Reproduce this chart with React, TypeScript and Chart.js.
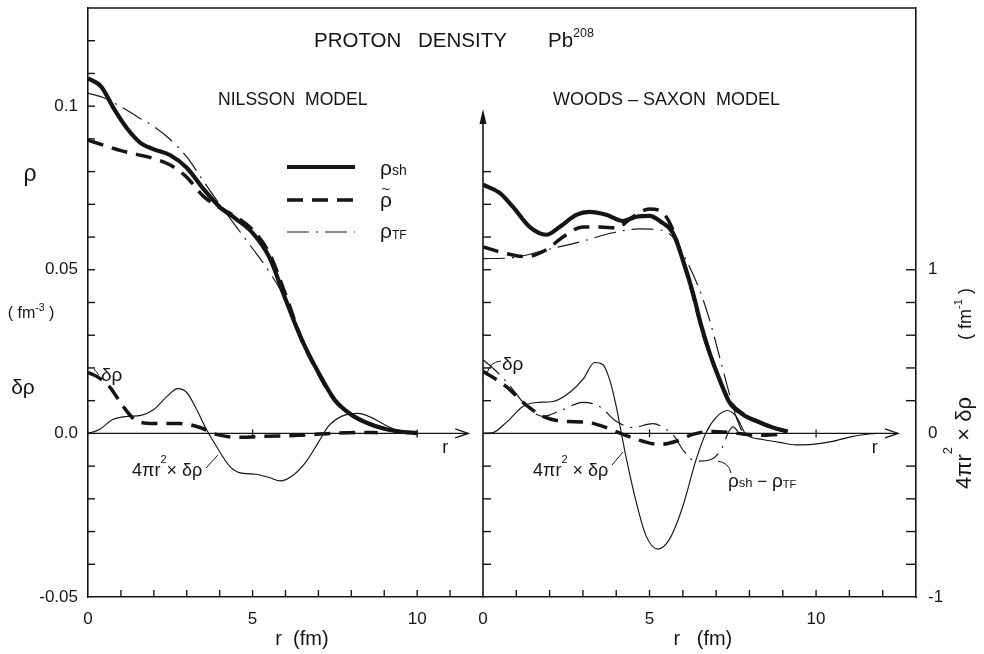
import React, { useEffect, useRef } from "react";
import { Chart, registerables } from "chart.js";

Chart.register(...registerables);

const W = 984;
const H = 654;
const INK = "#151515";
const FONT = "'Liberation Sans', Arial, Helvetica, sans-serif";

// ---------- axes ----------
const RHO_MIN = -0.05;
const RHO_MAX = 0.13;
const RAD_MIN = -1;
const RAD_MAX = 2.6;
const NIL_R_MAX = 12;
const WS_R_MAX = 13;
const X_LABEL_VALUES = [0, 5, 10];
const RHO_LABELS: Record<number, string> = { 100: "0.1", 50: "0.05", 0: "0.0", [-50]: "-0.05" };
const RAD_LABELS: Record<number, string> = { 10: "1", 0: "0", [-10]: "-1" };

// ---------- Nilsson model (left panel) ----------
const nilShR = [0, 0.4, 0.8, 1.2, 1.6, 2.0, 2.5, 3.0, 3.5, 4.0, 4.5, 5.0, 5.5, 6.0, 6.5, 7.0, 7.5, 8.0, 8.5, 9.0, 9.5, 10];
const nilSh = [0.1085, 0.106, 0.099, 0.093, 0.0887, 0.0868, 0.085, 0.0812, 0.0748, 0.0692, 0.0655, 0.0613, 0.054, 0.041, 0.0285, 0.0186, 0.0102, 0.0057, 0.0031, 0.0014, 0.0005, 0.0001];

const nilTildeR = [0, 0.5, 1.0, 1.5, 2.0, 2.5, 3.0, 3.5, 4.0, 4.5, 5.0, 5.5, 6.0, 6.5, 7.0, 7.5, 8.0, 8.5, 9.0, 9.5, 10];
const nilTilde = [0.0896, 0.088, 0.0864, 0.0852, 0.084, 0.082, 0.0783, 0.0725, 0.069, 0.0662, 0.0622, 0.0552, 0.0425, 0.0285, 0.0183, 0.01, 0.0057, 0.0031, 0.0015, 0.0005, 0.0001];

const nilTfR = [0, 0.5, 1.0, 1.5, 2.0, 2.5, 3.0, 3.5, 4.0, 4.5, 5.0, 5.5, 6.0, 6.5, 7.0, 7.5, 8.0, 8.5, 9.0, 9.5, 10];
const nilTf = [0.104, 0.1025, 0.0998, 0.0968, 0.0938, 0.0898, 0.0845, 0.0772, 0.07, 0.0632, 0.0565, 0.0495, 0.041, 0.029, 0.0185, 0.01, 0.0053, 0.0028, 0.0012, 0.0004, 0.0001];

const nilDeltaR = [0, 0.3, 0.65, 1.05, 1.45, 2.0, 2.8, 3.4, 3.9, 4.6, 5.4, 6.4, 7.4, 8.4, 8.8];
const nilDelta = [0.0186, 0.0172, 0.0143, 0.0085, 0.004, 0.003, 0.003, 0.0018, -0.0003, -0.0012, -0.0009, -0.0006, 0.0, 0.0003, 0.0002];

const nilRadR = [0, 0.35, 0.75, 1.2, 1.6, 2.0, 2.4, 2.73, 3.0, 3.3, 3.6, 3.9, 4.3, 4.6, 5.1, 5.5, 5.85, 6.2, 6.6, 7.0, 7.3, 7.7, 8.2, 8.6, 9.1, 9.5, 9.95];
const nilRad = [0, 0.024, 0.085, 0.104, 0.11, 0.146, 0.226, 0.274, 0.25, 0.146, 0.024, -0.079, -0.2, -0.24, -0.25, -0.27, -0.29, -0.26, -0.18, -0.055, 0.043, 0.104, 0.122, 0.098, 0.043, 0.012, 0];

// ---------- Woods-Saxon model (right panel) ----------
const wsShR = [0, 0.5, 0.9, 1.4, 1.9, 2.3, 2.8, 3.2, 3.7, 4.2, 4.6, 5.0, 5.35, 5.7, 6.0, 6.3, 6.55, 6.8, 7.1, 7.4, 7.8, 8.3, 8.7, 9.15];
const wsSh = [0.076, 0.0735, 0.0692, 0.0631, 0.0607, 0.0631, 0.0668, 0.0677, 0.0668, 0.0649, 0.0662, 0.0665, 0.0646, 0.0613, 0.053, 0.043, 0.033, 0.0247, 0.0165, 0.0095, 0.0058, 0.0034, 0.0018, 0.0006];

const wsTildeR = [0, 0.6, 1.3, 1.9, 2.4, 3.0, 3.5, 4.0, 4.5, 5.0, 5.4, 5.7, 6.0, 6.3, 6.6, 7.0, 7.4, 7.8, 8.3, 8.7, 9.1];
const wsTilde = [0.057, 0.0552, 0.054, 0.0561, 0.06, 0.0631, 0.0631, 0.0628, 0.0662, 0.0686, 0.0674, 0.0622, 0.053, 0.0425, 0.031, 0.019, 0.01, 0.006, 0.0034, 0.0018, 0.0006];

const wsTfR = [0, 0.9, 1.9, 2.9, 3.9, 4.7, 5.3, 5.7, 6.1, 6.5, 6.8, 7.1, 7.4, 7.6, 7.8];
const wsTf = [0.0534, 0.0537, 0.0561, 0.0585, 0.0613, 0.0625, 0.0622, 0.06, 0.053, 0.0439, 0.0348, 0.0235, 0.012, 0.005, 0.0];

const wsDeltaR = [0, 0.7, 1.2, 1.8, 2.4, 3.1, 3.7, 4.2, 4.8, 5.3, 5.8, 6.3, 6.9, 7.4, 8.3, 8.9];
const wsDelta = [0.019, 0.0143, 0.0095, 0.0052, 0.0037, 0.0034, 0.0018, -0.0003, -0.0024, -0.0034, -0.0024, -0.0003, 0.0006, 0.0003, -0.0006, -0.0003];

const wsDiffR = [0, 0.4, 0.9, 1.2, 1.8, 2.4, 3.0, 3.5, 4.0, 4.5, 5.1, 5.5, 5.75, 6.0, 6.4, 6.85, 7.2, 7.35, 7.5, 7.7];
const wsDiff = [0.0225, 0.019, 0.0134, 0.0095, 0.0052, 0.0073, 0.0095, 0.0082, 0.0037, 0.0018, 0.003, 0.0012, -0.001, -0.005, -0.0085, -0.008, -0.004, 0.0, 0.002, 0.0];

const wsRadR = [0, 0.3, 0.7, 1.2, 1.6, 2.1, 2.6, 3.0, 3.35, 3.6, 3.8, 4.0, 4.15, 4.3, 4.6, 4.9, 5.25, 5.6, 6.0, 6.4, 6.7, 7.0, 7.34, 7.6, 7.9, 8.4, 8.9, 9.4, 9.9, 10.5, 11.1, 11.5, 11.8];
const wsRad = [0, 0.005, 0.067, 0.165, 0.189, 0.195, 0.25, 0.33, 0.433, 0.42, 0.33, 0.165, 0.006, -0.15, -0.42, -0.628, -0.707, -0.646, -0.445, -0.159, 0.006, 0.098, 0.14, 0.104, -0.006, -0.037, -0.055, -0.07, -0.067, -0.049, -0.018, -0.006, 0];

// ---------- styles ----------
type Sty = { w: number; dash: number[] };
const THICK: Sty = { w: 4.2, dash: [] };
const DASHED: Sty = { w: 3.5, dash: [16, 9] };
const DASHDOT: Sty = { w: 1.15, dash: [22, 7, 2, 7] };
const THIN: Sty = { w: 1.15, dash: [] };

function series(label: string, rs: number[], vs: number[], s: Sty, axis = "y") {
  return {
    type: "line" as const,
    label,
    data: rs.map((r, i) => ({ x: r, y: vs[i] })),
    xAxisID: "x",
    yAxisID: axis,
    borderColor: INK,
    backgroundColor: INK,
    borderWidth: s.w,
    borderDash: s.dash,
    borderCapStyle: "butt" as const,
    borderJoinStyle: "round" as const,
    pointRadius: 0,
    pointHoverRadius: 0,
    fill: false,
    cubicInterpolationMode: "monotone" as const,
  };
}

// ---------- drawing helpers ----------
function seg(ctx: CanvasRenderingContext2D, x1: number, y1: number, x2: number, y2: number, w = 1.4) {
  ctx.beginPath();
  ctx.lineWidth = w;
  ctx.setLineDash([]);
  ctx.moveTo(x1, y1);
  ctx.lineTo(x2, y2);
  ctx.stroke();
}

type Part = [string, number, number];
function rich(ctx: CanvasRenderingContext2D, parts: Part[], x: number, y: number, align: "left" | "center" | "right" = "left") {
  let w = 0;
  for (const [s, size] of parts) {
    ctx.font = `${size}px ${FONT}`;
    w += ctx.measureText(s).width;
  }
  let cx = align === "center" ? x - w / 2 : align === "right" ? x - w : x;
  ctx.textAlign = "left";
  ctx.textBaseline = "alphabetic";
  for (const [s, size, dy] of parts) {
    ctx.font = `${size}px ${FONT}`;
    ctx.fillText(s, cx, y + dy);
    cx += ctx.measureText(s).width;
  }
}

function zeroArrow(ctx: CanvasRenderingContext2D, xs: any, ys: any, rEnd: number) {
  const y0 = ys.getPixelForValue(0);
  const x0 = xs.getPixelForValue(0);
  const xe = xs.getPixelForValue(rEnd);
  seg(ctx, x0, y0, xe, y0, 1.2);
  ctx.beginPath();
  ctx.lineWidth = 1.4;
  ctx.moveTo(xe - 13, y0 - 4.5);
  ctx.lineTo(xe, y0);
  ctx.lineTo(xe - 13, y0 + 4.5);
  ctx.stroke();
  for (const r of [5, 10]) {
    const px = xs.getPixelForValue(r);
    seg(ctx, px, y0 - 4, px, y0 + 4, 1.3);
  }
  rich(ctx, [["r", 18, 0]], xs.getPixelForValue(rEnd - 0.7), y0 + 20, "center");
}

function rhoTickValues(from: number, to: number) {
  const out: number[] = [];
  for (let k = Math.round(from * 100); k <= Math.round(to * 100); k++) out.push(k / 100);
  return out;
}

function noPad(s: any) {
  s.paddingTop = 0;
  s.paddingBottom = 0;
  s.paddingLeft = 0;
  s.paddingRight = 0;
}

// ---------- scales ----------
function xScale(max: number) {
  return {
    type: "linear" as const,
    min: 0,
    max,
    position: "bottom" as const,
    grid: { display: false, drawTicks: false },
    border: { display: true, color: INK, width: 1.6 },
    ticks: {
      stepSize: 1,
      autoSkip: false,
      maxRotation: 0,
      minRotation: 0,
      padding: 12,
      color: INK,
      font: { family: FONT, size: 17 },
      callback: (v: any) => (X_LABEL_VALUES.includes(Number(v)) ? String(v) : ""),
    },
    afterFit: (s: any) => {
      s.height = H - 597;
      noPad(s);
    },
  };
}

// ---------- plugins ----------
const leftDecor = {
  id: "leftDecor",
  afterDraw(chart: any) {
    const { ctx, chartArea: a } = chart;
    const xs = chart.scales.x;
    const ys = chart.scales.y;
    ctx.save();
    ctx.strokeStyle = INK;
    ctx.fillStyle = INK;
    // frame top
    seg(ctx, a.left, a.top, a.right, a.top, 1.6);
    // inward ticks
    for (const v of rhoTickValues(-0.04, 0.12)) {
      const py = ys.getPixelForValue(v);
      seg(ctx, a.left, py, a.left + 7, py, 1.4);
    }
    for (let r = 1; r < NIL_R_MAX; r++) {
      const px = xs.getPixelForValue(r);
      seg(ctx, px, a.bottom, px, a.bottom - 7, 1.4);
    }
    zeroArrow(ctx, xs, ys, 11.55);

    // title
    rich(ctx, [["PROTON", 20.5, 0]], 314, 47);
    rich(ctx, [["DENSITY", 20.5, 0]], 418, 47);
    rich(ctx, [["Pb", 20.5, 0], ["208", 12.5, -10]], 548, 47);
    rich(ctx, [["NILSSON  MODEL", 17.6, 0]], 218, 105);

    // left axis labels
    rich(ctx, [["ρ", 23, 0]], 30, 181, "center");
    rich(ctx, [["( fm", 16, 0], ["-3", 10.5, -7], [" )", 16, 0]], 31, 318, "center");
    rich(ctx, [["δρ", 21, 0]], 23, 394, "center");
    rich(ctx, [["r  (fm)", 20, 0]], xs.getPixelForValue(6.5), 645, "center");

    // legend
    ctx.strokeStyle = INK;
    seg(ctx, 287, 167, 355, 167, 4.2);
    ctx.beginPath();
    ctx.lineWidth = 3.5;
    ctx.setLineDash(DASHED.dash);
    ctx.moveTo(287, 200);
    ctx.lineTo(355, 200);
    ctx.stroke();
    ctx.beginPath();
    ctx.lineWidth = 1.15;
    ctx.setLineDash(DASHDOT.dash);
    ctx.moveTo(287, 232);
    ctx.lineTo(355, 232);
    ctx.stroke();
    ctx.setLineDash([]);
    rich(ctx, [["ρ", 21, 0], ["sh", 14, 0]], 380, 175);
    rich(ctx, [["ρ", 21, 0]], 380, 207);
    rich(ctx, [["~", 15, 0]], 386, 194, "center");
    rich(ctx, [["ρ", 21, 0], ["TF", 12, 1]], 380, 238);

    // annotations
    rich(ctx, [["δρ", 19, 0]], 101, 381);
    seg(ctx, 94, 369, 99, 375, 1);
    rich(ctx, [["4πr", 18, 0], ["2", 11, -13], ["× δρ", 18, 0]], 132, 476);
    seg(ctx, 206, 468, 218, 455, 1);
    ctx.restore();
  },
};

const rightDecor = {
  id: "rightDecor",
  afterDraw(chart: any) {
    const { ctx, chartArea: a } = chart;
    const xs = chart.scales.x;
    const ys = chart.scales.y;
    const y2 = chart.scales.y2;
    ctx.save();
    ctx.strokeStyle = INK;
    ctx.fillStyle = INK;
    seg(ctx, a.left, a.top, a.right, a.top, 1.6);
    // middle vertical axis with arrow
    seg(ctx, a.left, a.bottom, a.left, 122, 1.6);
    ctx.beginPath();
    ctx.moveTo(a.left, 109);
    ctx.lineTo(a.left - 3.5, 124);
    ctx.lineTo(a.left + 3.5, 124);
    ctx.closePath();
    ctx.fill();
    for (const v of rhoTickValues(-0.04, 0.08)) {
      const py = ys.getPixelForValue(v);
      seg(ctx, a.left, py, a.left + 8, py, 1.4);
    }
    // right axis ticks
    for (let k = -4; k <= 5; k++) {
      if (k === 0) continue;
      const py = y2.getPixelForValue(k * 0.2);
      seg(ctx, a.right, py, a.right - 10, py, 1.4);
    }
    for (let r = 1; r < WS_R_MAX; r++) {
      const px = xs.getPixelForValue(r);
      seg(ctx, px, a.bottom, px, a.bottom - 7, 1.4);
    }
    zeroArrow(ctx, xs, ys, 12.46);

    rich(ctx, [["WOODS – SAXON  MODEL", 18, 0]], 553, 105);
    rich(ctx, [["r   (fm)", 20, 0]], xs.getPixelForValue(6.6), 645, "center");

    // rotated right-hand labels
    ctx.save();
    ctx.translate(971, 314);
    ctx.rotate(-Math.PI / 2);
    rich(ctx, [["( fm", 18, 0], ["-1", 11, -9], [" )", 18, 0]], 0, 0, "center");
    ctx.restore();
    ctx.save();
    ctx.translate(971, 443);
    ctx.rotate(-Math.PI / 2);
    rich(ctx, [["4πr", 22, 0], ["2", 13, -19], [" × δρ", 22, 0]], 0, 0, "center");
    ctx.restore();

    // annotations
    rich(ctx, [["δρ", 19, 0]], 502, 370);
    ctx.beginPath();
    ctx.lineWidth = 1;
    ctx.moveTo(487, 374);
    ctx.quadraticCurveTo(489, 362, 501, 361);
    ctx.stroke();
    rich(ctx, [["4πr", 18, 0], ["2", 11, -13], [" × δρ", 18, 0]], 533, 476);
    seg(ctx, 612, 465, 623, 452, 1);
    rich(ctx, [["ρ", 19, 0], ["sh", 13, 0], [" − ", 17, 0], ["ρ", 19, 0], ["TF", 11, 1]], 728, 487);
    ctx.beginPath();
    ctx.lineWidth = 1;
    ctx.moveTo(731, 473);
    ctx.quadraticCurveTo(729, 463, 718, 461);
    ctx.stroke();
    ctx.restore();
  },
};

// ---------- configs ----------
function leftConfig(): any {
  return {
    type: "line",
    data: {
      datasets: [
        series("4πr²×δρ", nilRadR, nilRad, THIN, "y2"),
        series("ρTF", nilTfR, nilTf, DASHDOT),
        series("ρ̃", nilTildeR, nilTilde, DASHED),
        series("δρ", nilDeltaR, nilDelta, DASHED),
        series("ρsh", nilShR, nilSh, THICK),
      ],
    },
    options: {
      animation: false,
      responsive: false,
      devicePixelRatio: 1,
      events: [],
      layout: { padding: { left: 0, top: 8, right: W - 483, bottom: 0 } },
      plugins: { legend: { display: false }, tooltip: { enabled: false }, title: { display: false } },
      scales: {
        x: xScale(NIL_R_MAX),
        y: {
          type: "linear",
          min: RHO_MIN,
          max: RHO_MAX,
          position: "left",
          grid: { display: false, drawTicks: false },
          border: { display: true, color: INK, width: 1.6 },
          ticks: {
            stepSize: 0.01,
            autoSkip: false,
            padding: 10,
            color: INK,
            font: { family: FONT, size: 17 },
            callback: (v: any) => RHO_LABELS[Math.round(Number(v) * 1000)] ?? "",
          },
          afterFit: (s: any) => {
            s.width = 88;
            noPad(s);
          },
        },
        y2: { type: "linear", min: RAD_MIN, max: RAD_MAX, display: false, position: "right" },
      },
    },
    plugins: [leftDecor],
  };
}

function rightConfig(): any {
  return {
    type: "line",
    data: {
      datasets: [
        series("4πr²×δρ", wsRadR, wsRad, THIN, "y2"),
        series("ρsh−ρTF", wsDiffR, wsDiff, DASHDOT),
        series("ρTF", wsTfR, wsTf, DASHDOT),
        series("ρ̃", wsTildeR, wsTilde, DASHED),
        series("δρ", wsDeltaR, wsDelta, DASHED),
        series("ρsh", wsShR, wsSh, THICK),
      ],
    },
    options: {
      animation: false,
      responsive: false,
      devicePixelRatio: 1,
      events: [],
      layout: { padding: { left: 483, top: 8, right: 0, bottom: 0 } },
      plugins: { legend: { display: false }, tooltip: { enabled: false }, title: { display: false } },
      scales: {
        x: xScale(WS_R_MAX),
        y: { type: "linear", min: RHO_MIN, max: RHO_MAX, display: false, position: "left" },
        y2: {
          type: "linear",
          min: RAD_MIN,
          max: RAD_MAX,
          position: "right",
          grid: { display: false, drawTicks: false },
          border: { display: true, color: INK, width: 1.6 },
          ticks: {
            stepSize: 0.2,
            autoSkip: false,
            padding: 12,
            color: INK,
            font: { family: FONT, size: 17 },
            callback: (v: any) => RAD_LABELS[Math.round(Number(v) * 10)] ?? "",
          },
          afterFit: (s: any) => {
            s.width = W - 916;
            noPad(s);
          },
        },
      },
    },
    plugins: [rightDecor],
  };
}

export default function App() {
  const leftRef = useRef<HTMLCanvasElement>(null);
  const rightRef = useRef<HTMLCanvasElement>(null);
  useEffect(() => {
    const left = new Chart(leftRef.current as HTMLCanvasElement, leftConfig());
    const right = new Chart(rightRef.current as HTMLCanvasElement, rightConfig());
    return () => {
      left.destroy();
      right.destroy();
    };
  }, []);
  return (
    <div style={{ position: "absolute", left: 0, top: 0, width: W, height: H, background: "#fff", overflow: "hidden" }}>
      <canvas ref={leftRef} width={W} height={H} style={{ position: "absolute", left: 0, top: 0 }} />
      <canvas ref={rightRef} width={W} height={H} style={{ position: "absolute", left: 0, top: 0 }} />
    </div>
  );
}
